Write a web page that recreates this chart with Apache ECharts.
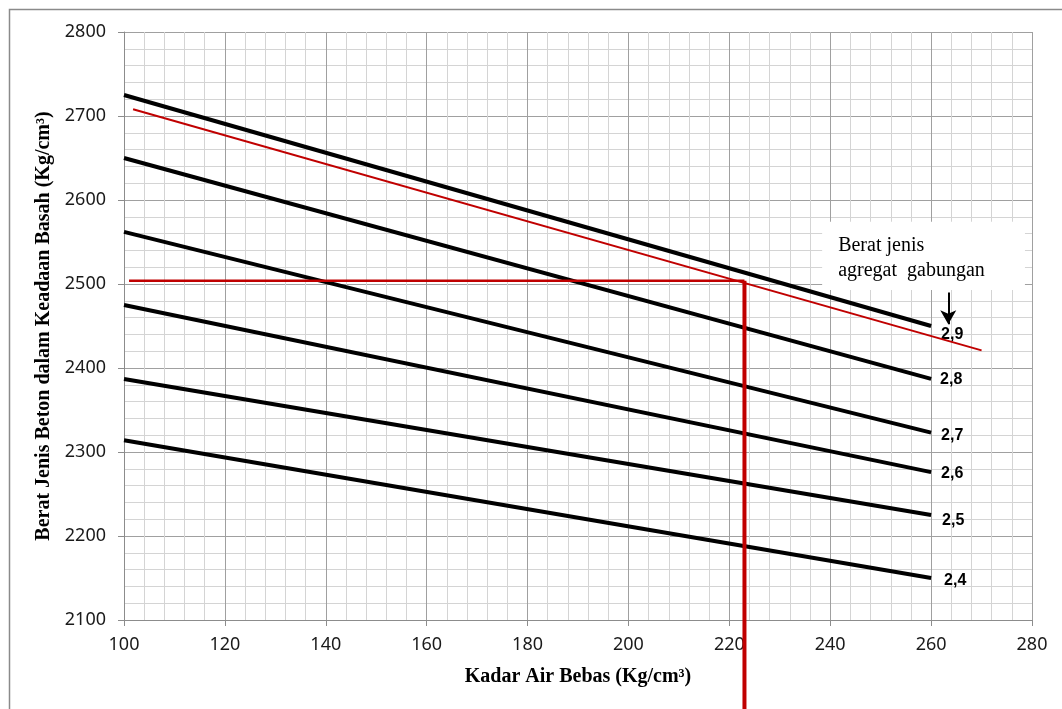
<!DOCTYPE html>
<html>
<head>
<meta charset="utf-8">
<script src="https://cdn.jsdelivr.net/npm/echarts@6/dist/echarts.min.js"></script>
<style>
html,body{margin:0;padding:0;background:#fff;}
#chart{width:1062px;height:709px;}
</style>
</head>
<body>
<div id="chart"></div>
<script>
// ---- data ----
const curveNames = ['2,9', '2,8', '2,7', '2,6', '2,5', '2,4'];
const curveX = [100, 260];
const curveStart = [2725, 2650, 2562, 2475, 2387, 2314];
const curveEnd = [2450, 2387, 2323, 2276, 2225, 2150];
const redLineX = [101.8, 270];
const redLineY = [2708, 2421];
const guideHX = [101, 223];
const guideHY = [2504, 2504];
const guideVX = [223, 223];
const guideVY = [2504, 1994];
const arrowX = [263.4, 263.4];
const arrowY = [2490, 2452];
const xTicks = [100, 120, 140, 160, 180, 200, 220, 240, 260, 280];
const yTicks = [2100, 2200, 2300, 2400, 2500, 2600, 2700, 2800];
const noteLines = ['Berat jenis', 'agregat  gabungan'];

const labelOffsets = [[2, 9], [1, 1], [2, 3], [2, 1], [3, 6], [5, 3]];

const chart = echarts.init(document.getElementById('chart'), null, {renderer: 'canvas'});

const series = curveNames.map((n, i) => ({
  name: n,
  type: 'line',
  data: [[curveX[0], curveStart[i]], [curveX[1], curveEnd[i]]],
  showSymbol: false,
  symbol: 'none',
  lineStyle: {color: '#000', width: 4},
  z: 5,
  endLabel: {
    show: true,
    formatter: '{a}',
    fontFamily: 'Liberation Sans',
    fontWeight: 'bold',
    fontSize: 16,
    color: '#000',
    offset: labelOffsets[i]
  },
  silent: true,
  animation: false
}));

series.push({
  type: 'line',
  data: redLineX.map((x, i) => [x, redLineY[i]]),
  symbol: 'none',
  lineStyle: {color: '#c00000', width: 2},
  z: 6, animation: false, silent: true
});
series.push({
  type: 'line',
  data: guideHX.map((x, i) => [x, guideHY[i]]),
  symbol: 'none',
  lineStyle: {color: '#c00000', width: 2.5},
  z: 6, animation: false, silent: true
});
series.push({
  type: 'line',
  data: guideVX.map((x, i) => [x, guideVY[i]]),
  symbol: 'none',
  clip: false,
  lineStyle: {color: '#c00000', width: 4},
  z: 6, animation: false, silent: true
});
series.push({
  type: 'line',
  data: [],
  symbol: 'none',
  z: 7, animation: false, silent: true,
  markLine: {
    silent: true,
    symbol: ['none', 'arrow'],
    symbolSize: [12, 14],
    label: {show: false},
    lineStyle: {color: '#000', width: 2, type: 'solid'},
    animation: false,
    data: [[{coord: [arrowX[0], arrowY[0]]}, {coord: [arrowX[1], arrowY[1]]}]]
  }
});

const option = {
  animation: false,
  backgroundColor: '#fff',
  grid: {left: 124, right: 30, top: 32, bottom: 89, containLabel: false},
  xAxis: {
    type: 'value',
    min: 100, max: 280, interval: 20,
    name: 'Kadar Air Bebas (Kg/cm³)',
    nameLocation: 'middle',
    nameGap: 47,
    nameTextStyle: {fontFamily: 'Liberation Serif', fontWeight: 'bold', fontSize: 20, color: '#000'},
    axisLine: {show: true, lineStyle: {color: '#8c8c8c', width: 1}},
    axisTick: {show: true, inside: false, length: 6, lineStyle: {color: '#8c8c8c'}},
    axisLabel: {margin: 16, fontFamily: 'Noto Sans', fontSize: 18, color: '#1a1a1a',
      formatter: v => xTicks.includes(v) ? String(v) : ''},
    splitLine: {show: true, lineStyle: {color: '#a0a0a0', width: 1}},
    minorTick: {show: false, splitNumber: 5},
    minorSplitLine: {show: true, lineStyle: {color: '#d4d4d4', width: 1}}
  },
  yAxis: {
    type: 'value',
    min: 2100, max: 2800, interval: 100,
    name: 'Berat Jenis Beton dalam Keadaan Basah (Kg/cm³)',
    nameLocation: 'middle',
    nameGap: 62,
    nameRotate: 90,
    nameTextStyle: {fontFamily: 'Liberation Serif', fontWeight: 'bold', fontSize: 20, color: '#000'},
    axisLine: {show: true, lineStyle: {color: '#8c8c8c', width: 1}},
    axisTick: {show: true, inside: false, length: 6, lineStyle: {color: '#8c8c8c'}},
    axisLabel: {margin: 18, fontFamily: 'Noto Sans', fontSize: 18, color: '#1a1a1a',
      formatter: v => yTicks.includes(v) ? String(v) : ''},
    splitLine: {show: true, lineStyle: {color: '#a0a0a0', width: 1}},
    minorTick: {show: false, splitNumber: 5},
    minorSplitLine: {show: true, lineStyle: {color: '#d4d4d4', width: 1}}
  },
  series: series
};

chart.setOption(option);

// annotation box positioned in data coordinates
const boxTL = chart.convertToPixel({gridIndex: 0}, [238.4, 2574]);
const boxBR = chart.convertToPixel({gridIndex: 0}, [278.6, 2493]);
chart.setOption({
  graphic: [
    {
      type: 'rect', z: 100,
      shape: {x: 9.5, y: 9.5, width: 1100, height: 800},
      style: {fill: 'none', stroke: '#8a8a8a', lineWidth: 1.5},
      silent: true
    },
    {
      type: 'rect', z: 50,
      shape: {x: boxTL[0], y: boxTL[1], width: boxBR[0] - boxTL[0], height: boxBR[1] - boxTL[1]},
      style: {fill: '#fff', stroke: 'none'},
      silent: true
    },
    {
      type: 'text', z: 51,
      x: boxTL[0] + 16, y: boxTL[1] + 11,
      style: {
        text: noteLines.join('\n'),
        fontFamily: 'Liberation Serif',
        fontSize: 20,
        lineHeight: 25,
        fill: '#000'
      },
      silent: true
    }
  ]
});
</script>
</body>
</html>
